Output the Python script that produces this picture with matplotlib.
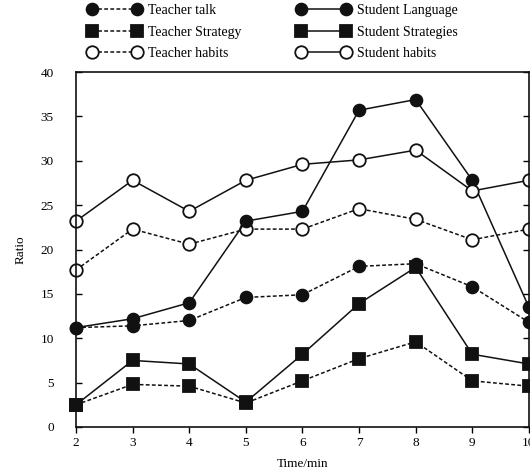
import matplotlib.pyplot as plt
from matplotlib.lines import Line2D

plt.rcParams['font.family'] = ['Liberation Serif', 'DejaVu Serif']

# data
time_min = [2, 3, 4, 5, 6, 7, 8, 9, 10]
teacher_talk = [11.2, 11.4, 12.0, 14.6, 14.9, 18.1, 18.4, 15.8, 11.8]
teacher_strategy = [2.5, 4.8, 4.6, 2.7, 5.2, 7.7, 9.6, 5.2, 4.6]
teacher_habits = [17.7, 22.3, 20.6, 22.3, 22.3, 24.6, 23.4, 21.1, 22.3]
student_language = [11.2, 12.2, 14.0, 23.2, 24.3, 35.7, 36.9, 27.8, 13.5]
student_strategies = [2.5, 7.5, 7.1, 2.8, 8.2, 13.9, 18.0, 8.2, 7.1]
student_habits = [23.2, 27.8, 24.3, 27.8, 29.6, 30.1, 31.2, 26.6, 27.8]

series = [
    ("Teacher talk", teacher_talk, (0, (2.5, 1.5)), 'o', '#111111'),
    ("Teacher Strategy", teacher_strategy, (0, (2.5, 1.5)), 's', '#111111'),
    ("Teacher habits", teacher_habits, (0, (2.5, 1.5)), 'o', 'white'),
    ("Student Language", student_language, '-', 'o', '#111111'),
    ("Student Strategies", student_strategies, '-', 's', '#111111'),
    ("Student habits", student_habits, '-', 'o', 'white'),
]

fig = plt.figure(figsize=(5.3, 4.74), dpi=100)
ax = fig.add_axes([0.1434, 0.0992, 0.8545, 0.7488])

handles = []
for name, vals, ls, mk, fc in series:
    ms = 8.5 if mk == 'o' else 8
    if fc == 'white':
        ms = 9
    ln, = ax.plot(time_min, vals, linestyle=ls, color='#111111', linewidth=1.1,
                  marker=mk, markersize=ms, markerfacecolor=fc,
                  markeredgecolor='#111111', markeredgewidth=1.3,
                  clip_on=False, label=name)
    handles.append(ln)

ax.set_xlim(2, 10)
ax.set_ylim(0, 40)
ax.set_xticks(time_min)
ax.set_yticks(range(0, 41, 5))
ax.tick_params(axis='y', direction='in', right=True, length=4, labelsize=9.5, width=1, pad=16)
ax.tick_params(axis='x', direction='out', length=4, labelsize=9.5, width=1)
for s in ax.spines.values():
    s.set_linewidth(1.2)
    s.set_color('#111111')

ax.set_xlabel("Time/min", fontsize=9.5, labelpad=6)
ax.set_ylabel("Ratio", fontsize=9.5, labelpad=10)

fig.legend(handles=handles, ncol=2, loc='upper left', bbox_to_anchor=(0.143, 1.018),
           frameon=False, numpoints=2, fontsize=10, handlelength=3.8,
           handletextpad=0.5, columnspacing=4.0, labelspacing=0.62)

fig.savefig("out.png", dpi=100)
